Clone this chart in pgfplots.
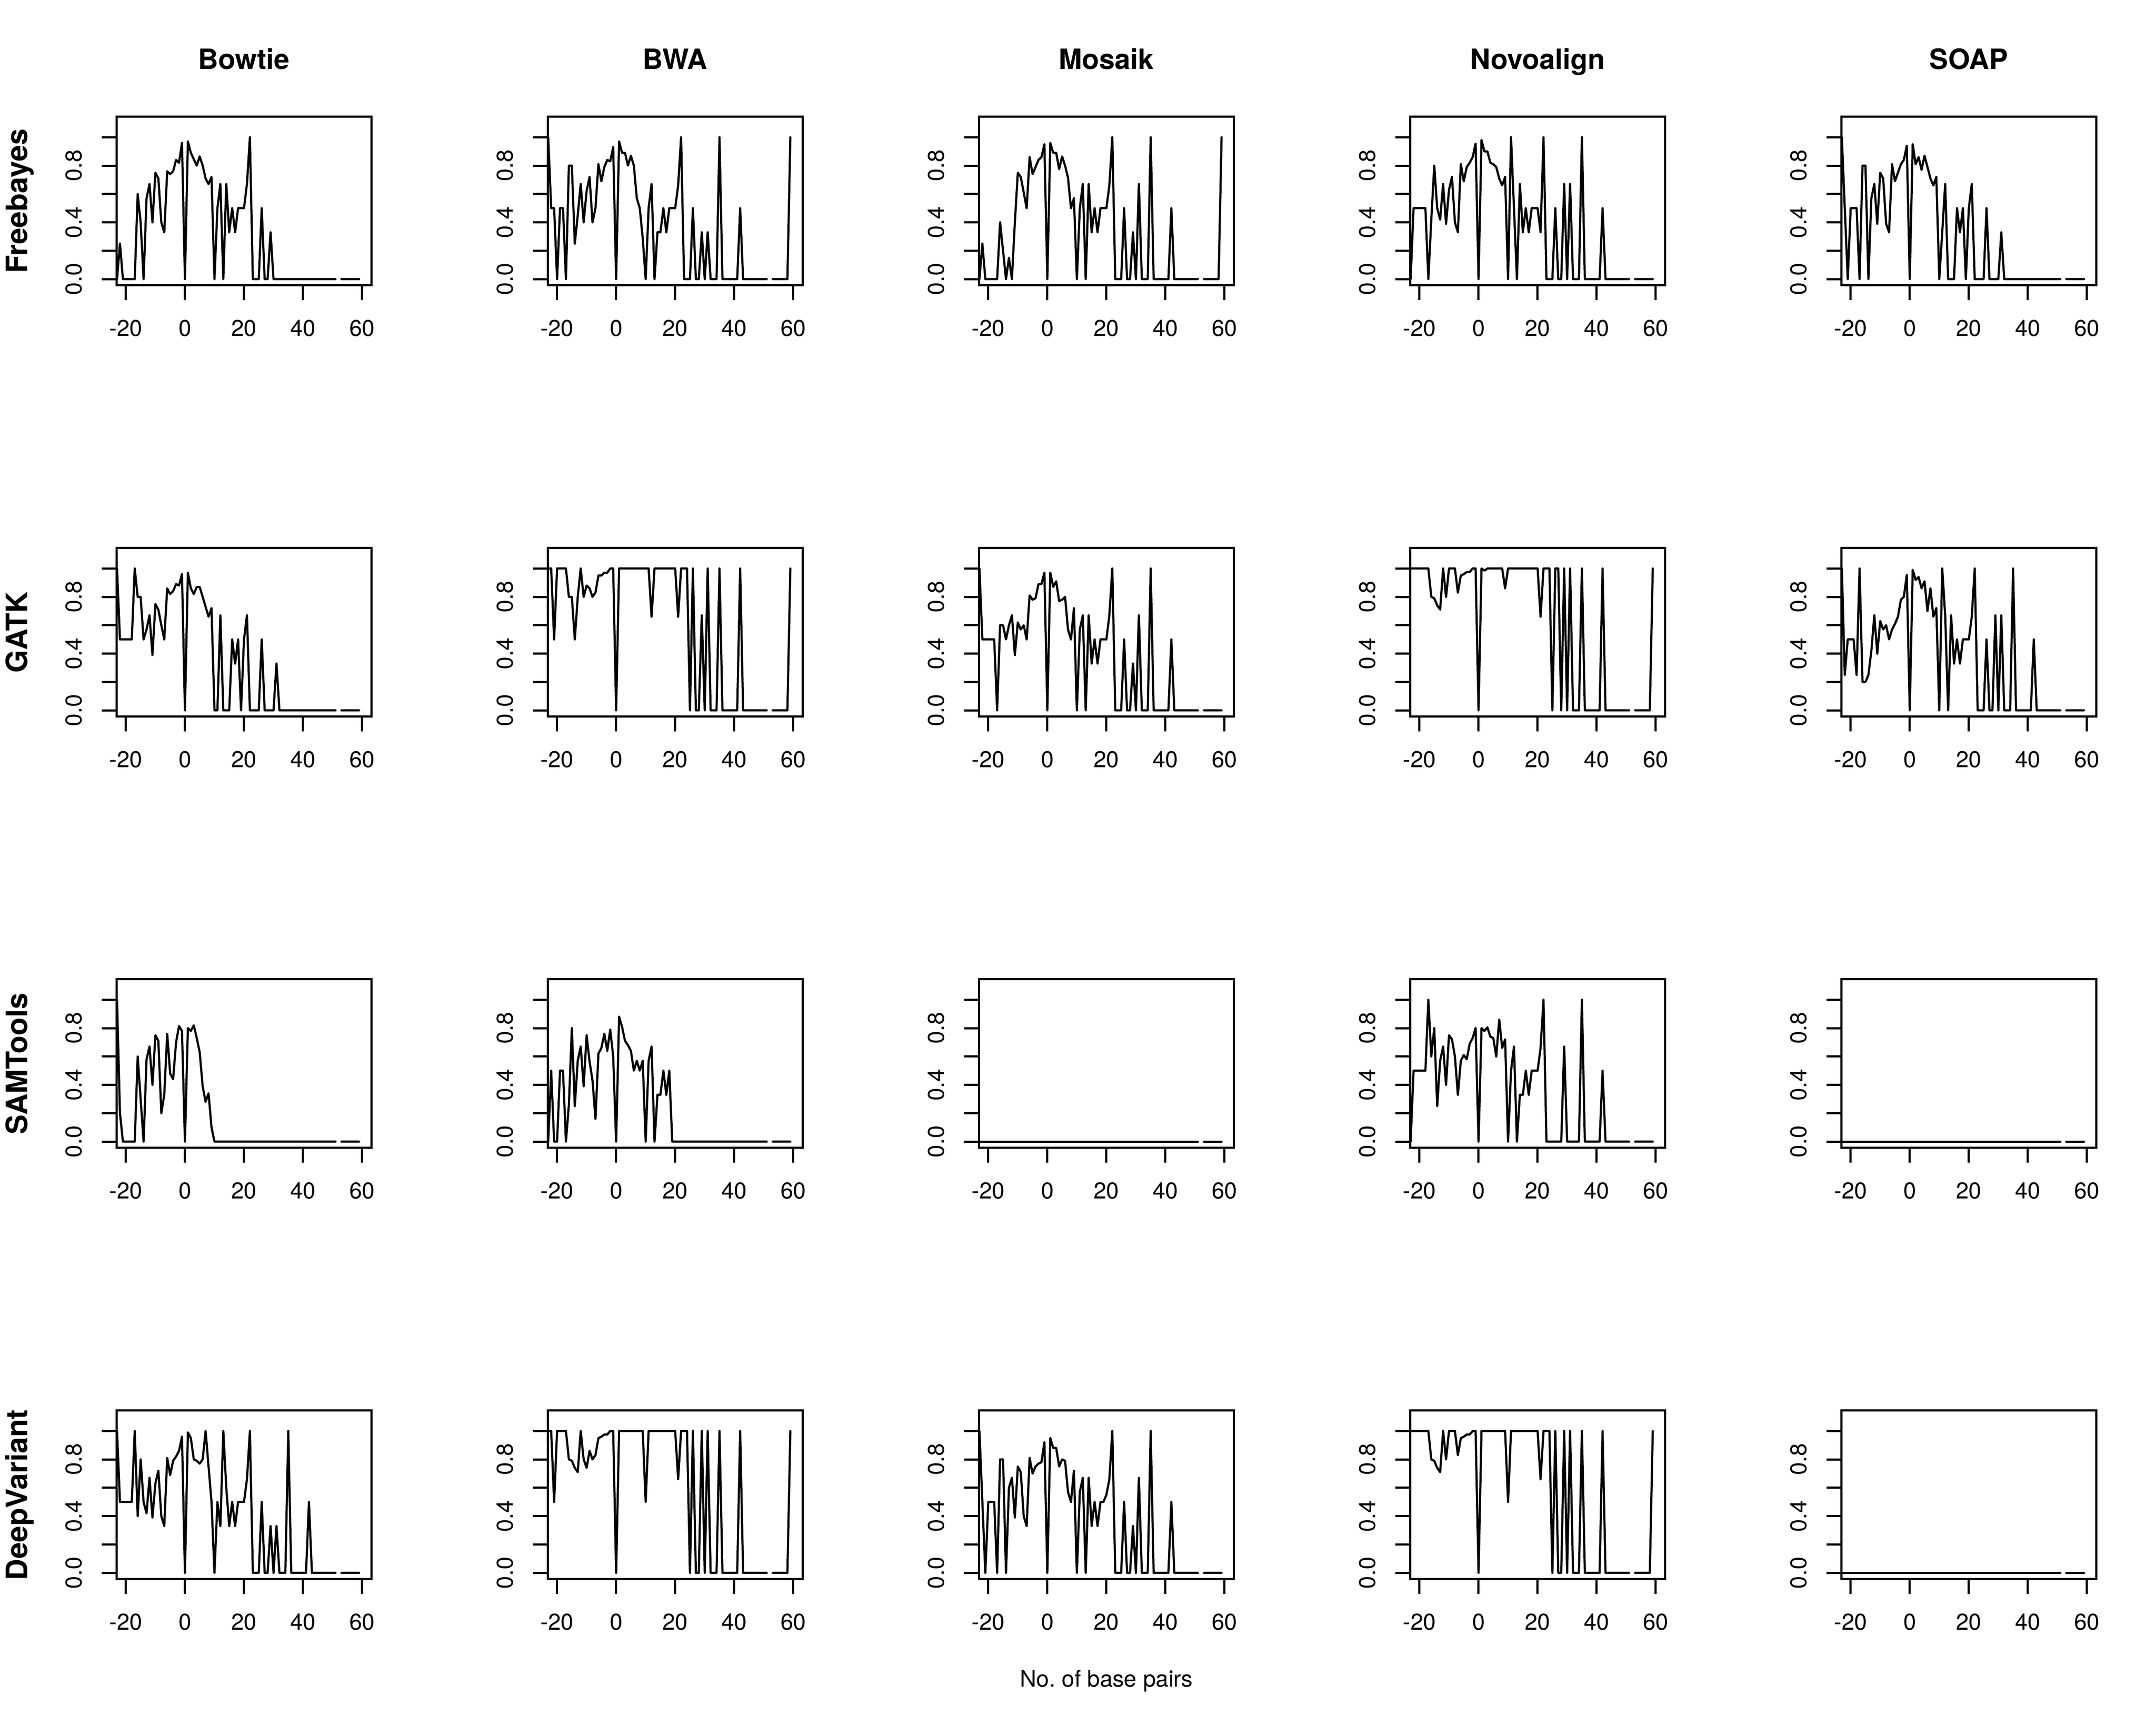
\documentclass[border=0pt]{standalone}
\usepackage{fontspec}
\setmainfont{TeX Gyre Heros}
\usepackage{pgfplots}
\pgfplotsset{compat=1.18}
\newcommand\tickfont{\fontsize{15.9}{19}\selectfont}
\newcommand\titfont{\fontsize{19.5}{23}\selectfont\bfseries}
\newcommand\rowfont{\fontsize{20.5}{24}\selectfont\bfseries}
\pgfplotsset{
  panel/.style={
    scale only axis, width=177.5pt, height=117.25pt,
    anchor=south west,
    xmin=-23.2, xmax=63.2, ymin=-0.044, ymax=1.144,
    axis line style={line width=1.5pt, black},
    tick style={line width=1.5pt, black},
    tick align=outside, major tick length=10.3pt,
    tick pos=left,
    xtick={-20,0,20,40,60}, xticklabels={-20,0,20,40,60},
    ytick={0,0.2,0.4,0.6,0.8,1}, yticklabels={0.0,,0.4,,0.8,},
    tick label style={font=\tickfont, inner sep=0pt},
    xticklabel style={anchor=north},
    yticklabel style={rotate=90, anchor=south},
    xticklabel shift=13.7pt,
    yticklabel shift=13.4pt,
    unbounded coords=jump,
    no markers,
    every axis plot post/.append style={black, line width=1.5pt, line join=round, line cap=round, mark=none},
  }
}
\begin{document}
\begin{tikzpicture}
\useasboundingbox (0pt,0pt) rectangle (1500pt,-1200pt);
% ---------------- Row 1: Freebayes
\begin{axis}[panel, at={(81pt,-198.5pt)}]
\addplot coordinates {(-23,0) (-22,0.25) (-21,0) (-20,0) (-19,0) (-18,0) (-17,0) (-16,0.6) (-15,0.4) (-14,0) (-13,0.57) (-12,0.67) (-11,0.4) (-10,0.75) (-9,0.71) (-8,0.4) (-7,0.33) (-6,0.76) (-5,0.74) (-4,0.76) (-3,0.84) (-2,0.82) (-1,0.96) (0,0) (1,0.97) (2,0.89) (3,0.845) (4,0.8) (5,0.865) (6,0.8) (7,0.71) (8,0.67) (9,0.72) (10,0) (11,0.5) (12,0.67) (13,0) (14,0.67) (15,0.33) (16,0.5) (17,0.33) (18,0.5) (19,0.5) (20,0.5) (21,0.67) (22,1) (23,0) (24,0) (25,0) (26,0.5) (27,0) (28,0) (29,0.33) (30,0) (31,0) (32,0) (33,0) (34,0) (35,0) (36,0) (37,0) (38,0) (39,0) (40,0) (41,0) (42,0) (43,0) (44,0) (45,0) (46,0) (47,0) (48,0) (49,0) (50,0) (51,0) (52,nan) (53,0) (54,0) (55,0) (56,0) (57,0) (58,0) (59,0)};
\end{axis}
\begin{axis}[panel, at={(381pt,-198.5pt)}]
\addplot coordinates {(-23,1) (-22,0.5) (-21,0.5) (-20,0) (-19,0.5) (-18,0.5) (-17,0) (-16,0.8) (-15,0.8) (-14,0.25) (-13,0.45) (-12,0.67) (-11,0.4) (-10,0.62) (-9,0.72) (-8,0.4) (-7,0.5) (-6,0.81) (-5,0.69) (-4,0.79) (-3,0.84) (-2,0.83) (-1,0.93) (0,0) (1,0.97) (2,0.89) (3,0.89) (4,0.8) (5,0.87) (6,0.8) (7,0.57) (8,0.5) (9,0.29) (10,0) (11,0.5) (12,0.67) (13,0) (14,0.33) (15,0.33) (16,0.5) (17,0.33) (18,0.5) (19,0.5) (20,0.5) (21,0.66) (22,1) (23,0) (24,0) (25,0) (26,0.5) (27,0) (28,0) (29,0.33) (30,0) (31,0.33) (32,0) (33,0) (34,0) (35,1) (36,0) (37,0) (38,0) (39,0) (40,0) (41,0) (42,0.5) (43,0) (44,0) (45,0) (46,0) (47,0) (48,0) (49,0) (50,0) (51,0) (52,nan) (53,0) (54,0) (55,0) (56,0) (57,0) (58,0) (59,1)};
\end{axis}
\begin{axis}[panel, at={(681pt,-198.5pt)}]
\addplot coordinates {(-23,0) (-22,0.25) (-21,0) (-20,0) (-19,0) (-18,0) (-17,0) (-16,0.4) (-15,0.2) (-14,0) (-13,0.15) (-12,0) (-11,0.4) (-10,0.75) (-9,0.72) (-8,0.61) (-7,0.5) (-6,0.86) (-5,0.74) (-4,0.79) (-3,0.84) (-2,0.86) (-1,0.95) (0,0) (1,0.96) (2,0.89) (3,0.89) (4,0.775) (5,0.865) (6,0.8) (7,0.715) (8,0.5) (9,0.57) (10,0) (11,0.5) (12,0.67) (13,0) (14,0.67) (15,0.33) (16,0.5) (17,0.33) (18,0.5) (19,0.5) (20,0.5) (21,0.66) (22,1) (23,0) (24,0) (25,0) (26,0.5) (27,0) (28,0) (29,0.33) (30,0) (31,0.67) (32,0) (33,0) (34,0) (35,1) (36,0) (37,0) (38,0) (39,0) (40,0) (41,0) (42,0.5) (43,0) (44,0) (45,0) (46,0) (47,0) (48,0) (49,0) (50,0) (51,0) (52,nan) (53,0) (54,0) (55,0) (56,0) (57,0) (58,0) (59,1)};
\end{axis}
\begin{axis}[panel, at={(981pt,-198.5pt)}]
\addplot coordinates {(-23,0) (-22,0.5) (-21,0.5) (-20,0.5) (-19,0.5) (-18,0.5) (-17,0) (-16,0.42) (-15,0.8) (-14,0.5) (-13,0.42) (-12,0.67) (-11,0.39) (-10,0.63) (-9,0.72) (-8,0.4) (-7,0.33) (-6,0.81) (-5,0.69) (-4,0.79) (-3,0.82) (-2,0.86) (-1,0.955) (0,0) (1,0.98) (2,0.9) (3,0.9) (4,0.82) (5,0.81) (6,0.79) (7,0.71) (8,0.66) (9,0.72) (10,0) (11,1) (12,0.5) (13,0) (14,0.67) (15,0.33) (16,0.5) (17,0.33) (18,0.5) (19,0.5) (20,0.5) (21,0.33) (22,1) (23,0) (24,0) (25,0) (26,0.5) (27,0) (28,0) (29,0.67) (30,0) (31,0.67) (32,0) (33,0) (34,0) (35,1) (36,0) (37,0) (38,0) (39,0) (40,0) (41,0) (42,0.5) (43,0) (44,0) (45,0) (46,0) (47,0) (48,0) (49,0) (50,0) (51,0) (52,nan) (53,0) (54,0) (55,0) (56,0) (57,0) (58,0) (59,0)};
\end{axis}
\begin{axis}[panel, at={(1281pt,-198.5pt)}]
\addplot coordinates {(-23,1) (-22,0.5) (-21,0) (-20,0.5) (-19,0.5) (-18,0.5) (-17,0) (-16,0.8) (-15,0.8) (-14,0) (-13,0.57) (-12,0.67) (-11,0.39) (-10,0.75) (-9,0.71) (-8,0.39) (-7,0.33) (-6,0.81) (-5,0.69) (-4,0.75) (-3,0.81) (-2,0.84) (-1,0.94) (0,0) (1,0.95) (2,0.81) (3,0.86) (4,0.77) (5,0.87) (6,0.79) (7,0.71) (8,0.66) (9,0.72) (10,0) (11,0.33) (12,0.67) (13,0) (14,0) (15,0) (16,0.5) (17,0.33) (18,0.5) (19,0) (20,0.5) (21,0.67) (22,0) (23,0) (24,0) (25,0) (26,0.5) (27,0) (28,0) (29,0) (30,0) (31,0.33) (32,0) (33,0) (34,0) (35,0) (36,0) (37,0) (38,0) (39,0) (40,0) (41,0) (42,0) (43,0) (44,0) (45,0) (46,0) (47,0) (48,0) (49,0) (50,0) (51,0) (52,nan) (53,0) (54,0) (55,0) (56,0) (57,0) (58,0) (59,0)};
\end{axis}
% ---------------- Row 2: GATK
\begin{axis}[panel, at={(81pt,-498.5pt)}]
\addplot coordinates {(-23,1) (-22,0.5) (-21,0.5) (-20,0.5) (-19,0.5) (-18,0.5) (-17,1) (-16,0.8) (-15,0.8) (-14,0.5) (-13,0.57) (-12,0.67) (-11,0.39) (-10,0.75) (-9,0.71) (-8,0.6) (-7,0.5) (-6,0.86) (-5,0.82) (-4,0.84) (-3,0.89) (-2,0.88) (-1,0.96) (0,0) (1,0.97) (2,0.86) (3,0.82) (4,0.87) (5,0.87) (6,0.8) (7,0.73) (8,0.66) (9,0.72) (10,0) (11,0) (12,0.67) (13,0) (14,0) (15,0) (16,0.5) (17,0.33) (18,0.5) (19,0) (20,0.5) (21,0.67) (22,0) (23,0) (24,0) (25,0) (26,0.5) (27,0) (28,0) (29,0) (30,0) (31,0.33) (32,0) (33,0) (34,0) (35,0) (36,0) (37,0) (38,0) (39,0) (40,0) (41,0) (42,0) (43,0) (44,0) (45,0) (46,0) (47,0) (48,0) (49,0) (50,0) (51,0) (52,nan) (53,0) (54,0) (55,0) (56,0) (57,0) (58,0) (59,0)};
\end{axis}
\begin{axis}[panel, at={(381pt,-498.5pt)}]
\addplot coordinates {(-23,1) (-22,1) (-21,0.5) (-20,1) (-19,1) (-18,1) (-17,1) (-16,0.8) (-15,0.8) (-14,0.5) (-13,0.8) (-12,1) (-11,0.8) (-10,0.88) (-9,0.86) (-8,0.8) (-7,0.83) (-6,0.95) (-5,0.95) (-4,0.97) (-3,0.97) (-2,1) (-1,1) (0,0) (1,1) (2,1) (3,1) (4,1) (5,1) (6,1) (7,1) (8,1) (9,1) (10,1) (11,1) (12,0.66) (13,1) (14,1) (15,1) (16,1) (17,1) (18,1) (19,1) (20,1) (21,0.66) (22,1) (23,1) (24,1) (25,0) (26,1) (27,0) (28,0) (29,0.67) (30,0) (31,1) (32,0) (33,0) (34,0) (35,1) (36,0) (37,0) (38,0) (39,0) (40,0) (41,0) (42,1) (43,0) (44,0) (45,0) (46,0) (47,0) (48,0) (49,0) (50,0) (51,0) (52,nan) (53,0) (54,0) (55,0) (56,0) (57,0) (58,0) (59,1)};
\end{axis}
\begin{axis}[panel, at={(681pt,-498.5pt)}]
\addplot coordinates {(-23,1) (-22,0.5) (-21,0.5) (-20,0.5) (-19,0.5) (-18,0.5) (-17,0) (-16,0.6) (-15,0.6) (-14,0.5) (-13,0.6) (-12,0.67) (-11,0.39) (-10,0.62) (-9,0.57) (-8,0.6) (-7,0.5) (-6,0.81) (-5,0.78) (-4,0.79) (-3,0.89) (-2,0.89) (-1,0.97) (0,0) (1,0.97) (2,0.87) (3,0.91) (4,0.77) (5,0.78) (6,0.8) (7,0.57) (8,0.5) (9,0.72) (10,0) (11,0.57) (12,0.67) (13,0) (14,0.67) (15,0.33) (16,0.5) (17,0.33) (18,0.5) (19,0.5) (20,0.5) (21,0.67) (22,1) (23,0) (24,0) (25,0) (26,0.5) (27,0) (28,0) (29,0.33) (30,0) (31,0.67) (32,0) (33,0) (34,0) (35,1) (36,0) (37,0) (38,0) (39,0) (40,0) (41,0) (42,0.5) (43,0) (44,0) (45,0) (46,0) (47,0) (48,0) (49,0) (50,0) (51,0) (52,nan) (53,0) (54,0) (55,0) (56,0) (57,0) (58,0) (59,0)};
\end{axis}
\begin{axis}[panel, at={(981pt,-498.5pt)}]
\addplot coordinates {(-23,1) (-22,1) (-21,1) (-20,1) (-19,1) (-18,1) (-17,1) (-16,0.8) (-15,0.79) (-14,0.74) (-13,0.71) (-12,1) (-11,0.8) (-10,1) (-9,1) (-8,1) (-7,0.83) (-6,0.95) (-5,0.96) (-4,0.975) (-3,0.975) (-2,1) (-1,1) (0,0) (1,1) (2,0.985) (3,1) (4,1) (5,1) (6,1) (7,1) (8,1) (9,0.86) (10,1) (11,1) (12,1) (13,1) (14,1) (15,1) (16,1) (17,1) (18,1) (19,1) (20,1) (21,0.66) (22,1) (23,1) (24,1) (25,0) (26,1) (27,1) (28,0) (29,1) (30,0) (31,1) (32,0) (33,0) (34,0) (35,1) (36,0) (37,0) (38,0) (39,0) (40,0) (41,0) (42,1) (43,0) (44,0) (45,0) (46,0) (47,0) (48,0) (49,0) (50,0) (51,0) (52,nan) (53,0) (54,0) (55,0) (56,0) (57,0) (58,0) (59,1)};
\end{axis}
\begin{axis}[panel, at={(1281pt,-498.5pt)}]
\addplot coordinates {(-23,1) (-22,0.25) (-21,0.5) (-20,0.5) (-19,0.5) (-18,0.25) (-17,1) (-16,0.2) (-15,0.2) (-14,0.25) (-13,0.42) (-12,0.67) (-11,0.4) (-10,0.63) (-9,0.57) (-8,0.6) (-7,0.5) (-6,0.57) (-5,0.61) (-4,0.66) (-3,0.78) (-2,0.8) (-1,0.955) (0,0) (1,0.99) (2,0.92) (3,0.94) (4,0.86) (5,0.91) (6,0.7) (7,0.86) (8,0.66) (9,0.72) (10,0) (11,1) (12,0.67) (13,0) (14,0.67) (15,0.33) (16,0.5) (17,0.33) (18,0.5) (19,0.5) (20,0.5) (21,0.66) (22,1) (23,0) (24,0) (25,0) (26,0.5) (27,0) (28,0) (29,0.67) (30,0) (31,0.67) (32,0) (33,0) (34,0) (35,1) (36,0) (37,0) (38,0) (39,0) (40,0) (41,0) (42,0.5) (43,0) (44,0) (45,0) (46,0) (47,0) (48,0) (49,0) (50,0) (51,0) (52,nan) (53,0) (54,0) (55,0) (56,0) (57,0) (58,0) (59,0)};
\end{axis}
% ---------------- Row 3: SAMTools
\begin{axis}[panel, at={(81pt,-798.5pt)}]
\addplot coordinates {(-23,1) (-22,0.2) (-21,0) (-20,0) (-19,0) (-18,0) (-17,0) (-16,0.6) (-15,0.3) (-14,0) (-13,0.58) (-12,0.67) (-11,0.4) (-10,0.75) (-9,0.71) (-8,0.2) (-7,0.33) (-6,0.76) (-5,0.48) (-4,0.44) (-3,0.7) (-2,0.815) (-1,0.78) (0,0) (1,0.8) (2,0.78) (3,0.82) (4,0.73) (5,0.63) (6,0.39) (7,0.28) (8,0.34) (9,0.1) (10,0) (11,0) (12,0) (13,0) (14,0) (15,0) (16,0) (17,0) (18,0) (19,0) (20,0) (21,0) (22,0) (23,0) (24,0) (25,0) (26,0) (27,0) (28,0) (29,0) (30,0) (31,0) (32,0) (33,0) (34,0) (35,0) (36,0) (37,0) (38,0) (39,0) (40,0) (41,0) (42,0) (43,0) (44,0) (45,0) (46,0) (47,0) (48,0) (49,0) (50,0) (51,0) (52,nan) (53,0) (54,0) (55,0) (56,0) (57,0) (58,0) (59,0)};
\end{axis}
\begin{axis}[panel, at={(381pt,-798.5pt)}]
\addplot coordinates {(-23,0) (-22,0.5) (-21,0) (-20,0) (-19,0.5) (-18,0.5) (-17,0) (-16,0.26) (-15,0.8) (-14,0.25) (-13,0.57) (-12,0.67) (-11,0.39) (-10,0.75) (-9,0.565) (-8,0.43) (-7,0.16) (-6,0.62) (-5,0.66) (-4,0.76) (-3,0.64) (-2,0.79) (-1,0.6) (0,0) (1,0.88) (2,0.81) (3,0.71) (4,0.68) (5,0.64) (6,0.5) (7,0.57) (8,0.5) (9,0.57) (10,0) (11,0.57) (12,0.67) (13,0) (14,0.33) (15,0.33) (16,0.5) (17,0.33) (18,0.5) (19,0) (20,0) (21,0) (22,0) (23,0) (24,0) (25,0) (26,0) (27,0) (28,0) (29,0) (30,0) (31,0) (32,0) (33,0) (34,0) (35,0) (36,0) (37,0) (38,0) (39,0) (40,0) (41,0) (42,0) (43,0) (44,0) (45,0) (46,0) (47,0) (48,0) (49,0) (50,0) (51,0) (52,nan) (53,0) (54,0) (55,0) (56,0) (57,0) (58,0) (59,0)};
\end{axis}
\begin{axis}[panel, at={(681pt,-798.5pt)}]
\addplot coordinates {(-23,0) (-22,0) (-21,0) (-20,0) (-19,0) (-18,0) (-17,0) (-16,0) (-15,0) (-14,0) (-13,0) (-12,0) (-11,0) (-10,0) (-9,0) (-8,0) (-7,0) (-6,0) (-5,0) (-4,0) (-3,0) (-2,0) (-1,0) (0,0) (1,0) (2,0) (3,0) (4,0) (5,0) (6,0) (7,0) (8,0) (9,0) (10,0) (11,0) (12,0) (13,0) (14,0) (15,0) (16,0) (17,0) (18,0) (19,0) (20,0) (21,0) (22,0) (23,0) (24,0) (25,0) (26,0) (27,0) (28,0) (29,0) (30,0) (31,0) (32,0) (33,0) (34,0) (35,0) (36,0) (37,0) (38,0) (39,0) (40,0) (41,0) (42,0) (43,0) (44,0) (45,0) (46,0) (47,0) (48,0) (49,0) (50,0) (51,0) (52,nan) (53,0) (54,0) (55,0) (56,0) (57,0) (58,0) (59,0)};
\end{axis}
\begin{axis}[panel, at={(981pt,-798.5pt)}]
\addplot coordinates {(-23,0) (-22,0.5) (-21,0.5) (-20,0.5) (-19,0.5) (-18,0.5) (-17,1) (-16,0.6) (-15,0.8) (-14,0.25) (-13,0.57) (-12,0.67) (-11,0.4) (-10,0.75) (-9,0.72) (-8,0.6) (-7,0.33) (-6,0.57) (-5,0.61) (-4,0.58) (-3,0.69) (-2,0.73) (-1,0.8) (0,0) (1,0.8) (2,0.78) (3,0.805) (4,0.74) (5,0.73) (6,0.6) (7,0.86) (8,0.66) (9,0.72) (10,0) (11,0.5) (12,0.67) (13,0) (14,0.33) (15,0.33) (16,0.5) (17,0.33) (18,0.5) (19,0.5) (20,0.5) (21,0.66) (22,1) (23,0) (24,0) (25,0) (26,0) (27,0) (28,0) (29,0.67) (30,0) (31,0) (32,0) (33,0) (34,0) (35,1) (36,0) (37,0) (38,0) (39,0) (40,0) (41,0) (42,0.5) (43,0) (44,0) (45,0) (46,0) (47,0) (48,0) (49,0) (50,0) (51,0) (52,nan) (53,0) (54,0) (55,0) (56,0) (57,0) (58,0) (59,0)};
\end{axis}
\begin{axis}[panel, at={(1281pt,-798.5pt)}]
\addplot coordinates {(-23,0) (-22,0) (-21,0) (-20,0) (-19,0) (-18,0) (-17,0) (-16,0) (-15,0) (-14,0) (-13,0) (-12,0) (-11,0) (-10,0) (-9,0) (-8,0) (-7,0) (-6,0) (-5,0) (-4,0) (-3,0) (-2,0) (-1,0) (0,0) (1,0) (2,0) (3,0) (4,0) (5,0) (6,0) (7,0) (8,0) (9,0) (10,0) (11,0) (12,0) (13,0) (14,0) (15,0) (16,0) (17,0) (18,0) (19,0) (20,0) (21,0) (22,0) (23,0) (24,0) (25,0) (26,0) (27,0) (28,0) (29,0) (30,0) (31,0) (32,0) (33,0) (34,0) (35,0) (36,0) (37,0) (38,0) (39,0) (40,0) (41,0) (42,0) (43,0) (44,0) (45,0) (46,0) (47,0) (48,0) (49,0) (50,0) (51,0) (52,nan) (53,0) (54,0) (55,0) (56,0) (57,0) (58,0) (59,0)};
\end{axis}
% ---------------- Row 4: DeepVariant
\begin{axis}[panel, at={(81pt,-1098.5pt)}]
\addplot coordinates {(-23,1) (-22,0.5) (-21,0.5) (-20,0.5) (-19,0.5) (-18,0.5) (-17,1) (-16,0.4) (-15,0.8) (-14,0.5) (-13,0.42) (-12,0.67) (-11,0.39) (-10,0.63) (-9,0.72) (-8,0.4) (-7,0.33) (-6,0.81) (-5,0.69) (-4,0.79) (-3,0.82) (-2,0.86) (-1,0.96) (0,0) (1,0.99) (2,0.95) (3,0.8) (4,0.79) (5,0.77) (6,0.8) (7,1) (8,0.75) (9,0.5) (10,0) (11,0.5) (12,0.33) (13,1) (14,0.6) (15,0.33) (16,0.5) (17,0.33) (18,0.5) (19,0.5) (20,0.5) (21,0.66) (22,1) (23,0) (24,0) (25,0) (26,0.5) (27,0) (28,0) (29,0.33) (30,0) (31,0.33) (32,0) (33,0) (34,0) (35,1) (36,0) (37,0) (38,0) (39,0) (40,0) (41,0) (42,0.5) (43,0) (44,0) (45,0) (46,0) (47,0) (48,0) (49,0) (50,0) (51,0) (52,nan) (53,0) (54,0) (55,0) (56,0) (57,0) (58,0) (59,0)};
\end{axis}
\begin{axis}[panel, at={(381pt,-1098.5pt)}]
\addplot coordinates {(-23,1) (-22,1) (-21,0.5) (-20,1) (-19,1) (-18,1) (-17,1) (-16,0.8) (-15,0.79) (-14,0.74) (-13,0.71) (-12,1) (-11,0.8) (-10,0.74) (-9,0.86) (-8,0.8) (-7,0.83) (-6,0.95) (-5,0.96) (-4,0.975) (-3,0.975) (-2,1) (-1,1) (0,0) (1,1) (2,1) (3,1) (4,1) (5,1) (6,1) (7,1) (8,1) (9,1) (10,0.5) (11,1) (12,1) (13,1) (14,1) (15,1) (16,1) (17,1) (18,1) (19,1) (20,1) (21,0.66) (22,1) (23,1) (24,1) (25,0) (26,1) (27,0) (28,0) (29,1) (30,0) (31,1) (32,0) (33,0) (34,0) (35,1) (36,0) (37,0) (38,0) (39,0) (40,0) (41,0) (42,1) (43,0) (44,0) (45,0) (46,0) (47,0) (48,0) (49,0) (50,0) (51,0) (52,nan) (53,0) (54,0) (55,0) (56,0) (57,0) (58,0) (59,1)};
\end{axis}
\begin{axis}[panel, at={(681pt,-1098.5pt)}]
\addplot coordinates {(-23,1) (-22,0.5) (-21,0) (-20,0.5) (-19,0.5) (-18,0.5) (-17,0) (-16,0.8) (-15,0.8) (-14,0) (-13,0.6) (-12,0.67) (-11,0.39) (-10,0.75) (-9,0.71) (-8,0.4) (-7,0.33) (-6,0.81) (-5,0.7) (-4,0.75) (-3,0.77) (-2,0.78) (-1,0.92) (0,0) (1,0.95) (2,0.88) (3,0.88) (4,0.75) (5,0.8) (6,0.79) (7,0.57) (8,0.5) (9,0.72) (10,0) (11,0.57) (12,0.67) (13,0) (14,0.67) (15,0.33) (16,0.5) (17,0.33) (18,0.5) (19,0.5) (20,0.55) (21,0.66) (22,1) (23,0) (24,0) (25,0) (26,0.5) (27,0) (28,0) (29,0.33) (30,0) (31,0.67) (32,0) (33,0) (34,0) (35,1) (36,0) (37,0) (38,0) (39,0) (40,0) (41,0) (42,0.5) (43,0) (44,0) (45,0) (46,0) (47,0) (48,0) (49,0) (50,0) (51,0) (52,nan) (53,0) (54,0) (55,0) (56,0) (57,0) (58,0) (59,0)};
\end{axis}
\begin{axis}[panel, at={(981pt,-1098.5pt)}]
\addplot coordinates {(-23,1) (-22,1) (-21,1) (-20,1) (-19,1) (-18,1) (-17,1) (-16,0.8) (-15,0.79) (-14,0.74) (-13,0.71) (-12,1) (-11,0.8) (-10,1) (-9,1) (-8,1) (-7,0.83) (-6,0.95) (-5,0.96) (-4,0.975) (-3,0.975) (-2,1) (-1,1) (0,0) (1,1) (2,1) (3,1) (4,1) (5,1) (6,1) (7,1) (8,1) (9,1) (10,0.5) (11,1) (12,1) (13,1) (14,1) (15,1) (16,1) (17,1) (18,1) (19,1) (20,1) (21,0.66) (22,1) (23,1) (24,1) (25,0) (26,1) (27,0) (28,0) (29,1) (30,0) (31,1) (32,0) (33,0) (34,0) (35,1) (36,0) (37,0) (38,0) (39,0) (40,0) (41,0) (42,1) (43,0) (44,0) (45,0) (46,0) (47,0) (48,0) (49,0) (50,0) (51,0) (52,nan) (53,0) (54,0) (55,0) (56,0) (57,0) (58,0) (59,1)};
\end{axis}
\begin{axis}[panel, at={(1281pt,-1098.5pt)}]
\addplot coordinates {(-23,0) (-22,0) (-21,0) (-20,0) (-19,0) (-18,0) (-17,0) (-16,0) (-15,0) (-14,0) (-13,0) (-12,0) (-11,0) (-10,0) (-9,0) (-8,0) (-7,0) (-6,0) (-5,0) (-4,0) (-3,0) (-2,0) (-1,0) (0,0) (1,0) (2,0) (3,0) (4,0) (5,0) (6,0) (7,0) (8,0) (9,0) (10,0) (11,0) (12,0) (13,0) (14,0) (15,0) (16,0) (17,0) (18,0) (19,0) (20,0) (21,0) (22,0) (23,0) (24,0) (25,0) (26,0) (27,0) (28,0) (29,0) (30,0) (31,0) (32,0) (33,0) (34,0) (35,0) (36,0) (37,0) (38,0) (39,0) (40,0) (41,0) (42,0) (43,0) (44,0) (45,0) (46,0) (47,0) (48,0) (49,0) (50,0) (51,0) (52,nan) (53,0) (54,0) (55,0) (56,0) (57,0) (58,0) (59,0)};
\end{axis}
% ---------------- Titles and labels
\node[anchor=base, font=\titfont] at (169.75pt,-48.25pt) {Bowtie};
\node[anchor=base, font=\titfont] at (469.75pt,-48.25pt) {BWA};
\node[anchor=base, font=\titfont] at (769.75pt,-48.25pt) {Mosaik};
\node[anchor=base, font=\titfont] at (1069.75pt,-48.25pt) {Novoalign};
\node[anchor=base, font=\titfont] at (1369.75pt,-48.25pt) {SOAP};
\node[anchor=base, rotate=90, font=\rowfont] at (19pt,-139.9pt) {Freebayes};
\node[anchor=base, rotate=90, font=\rowfont] at (19pt,-439.9pt) {GATK};
\node[anchor=base, rotate=90, font=\rowfont] at (19pt,-739.9pt) {SAMTools};
\node[anchor=base, rotate=90, font=\rowfont] at (19pt,-1039.9pt) {DeepVariant};
\node[anchor=base, font=\tickfont] at (769.75pt,-1173.5pt) {No.\ of base pairs};
\end{tikzpicture}
\end{document}
